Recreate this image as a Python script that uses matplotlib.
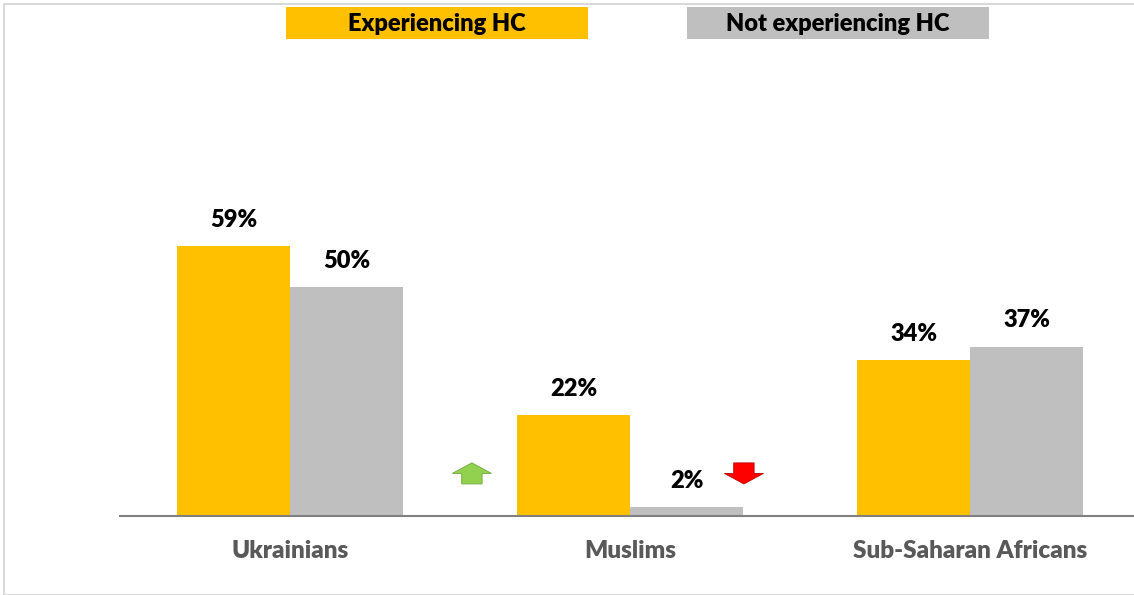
import matplotlib

matplotlib.use("Agg")
import matplotlib.pyplot as plt
import matplotlib.patches as mpatches
import numpy as np

plt.rcParams["font.family"] = ["Lato", "DejaVu Sans"]

categories = ["Ukrainians", "Muslims", "Sub-Saharan Africans"]
series_names = ["Experiencing HC", "Not experiencing HC"]
experiencing = [59, 22, 34]
not_experiencing = [50, 2, 37]

ORANGE = "#FFC000"
GREY = "#BFBFBF"
WEIGHT = "heavy"

W, H = 1134, 595
fig = plt.figure(figsize=(W / 100, H / 100), dpi=100)

# thin outer frame like the original chart area
fig.patches.append(
    mpatches.Rectangle((4 / W, 0), 1.2, 1 - 4 / H, transform=fig.transFigure,
                       fill=False, edgecolor="#D9D9D9", linewidth=1.5)
)

ax = fig.add_axes([120 / W, 79 / H, 1014 / W, 458 / H])
x = np.arange(len(categories))
bw = 0.332
b1 = ax.bar(x - bw / 2, experiencing, bw, color=ORANGE)
b2 = ax.bar(x + bw / 2, not_experiencing, bw, color=GREY)

for bars, vals in ((b1, experiencing), (b2, not_experiencing)):
    for rect, v in zip(bars, vals):
        ax.annotate(f"{v}%", (rect.get_x() + rect.get_width() / 2, v),
                    xytext=(0, 11), textcoords="offset points",
                    ha="center", va="bottom", fontsize=17, fontweight=WEIGHT,
                    color="black")

ax.set_xlim(-0.5, 2.5 - 6 / 340)
ax.set_ylim(0, 100)
ax.set_xticks(x)
ax.set_xticklabels(categories, fontsize=17.5, fontweight=WEIGHT, color="#595959")
ax.tick_params(axis="x", length=0, pad=17)
ax.set_yticks([])
for s in ("left", "right", "top"):
    ax.spines[s].set_visible(False)
ax.spines["bottom"].set_color("#808080")
ax.spines["bottom"].set_linewidth(1.5)

# change markers around the Muslims group
ax.add_patch(mpatches.FancyArrow(1 - 0.465, 7.0, 0, 4.6, width=0.06,
                                 head_width=0.115, head_length=2.3,
                                 length_includes_head=True,
                                 facecolor="#92D050", edgecolor="#6FA83A",
                                 linewidth=0.6))
ax.add_patch(mpatches.FancyArrow(1 + 0.335, 11.6, 0, -4.6, width=0.06,
                                 head_width=0.115, head_length=2.3,
                                 length_includes_head=True,
                                 facecolor="#FF0000", edgecolor="#C00000",
                                 linewidth=0.6))

# legend boxes at top
for name, color, left in ((series_names[0], ORANGE, 286), (series_names[1], GREY, 687)):
    fig.patches.append(
        mpatches.Rectangle((left / W, 1 - 39 / H), 302 / W, 32 / H,
                           transform=fig.transFigure, facecolor=color,
                           edgecolor="none")
    )
    fig.text((left + 151) / W, 1 - 24 / H, name, ha="center", va="center",
             fontsize=17, fontweight=WEIGHT, color="black")

fig.savefig("out.png", dpi=100)
